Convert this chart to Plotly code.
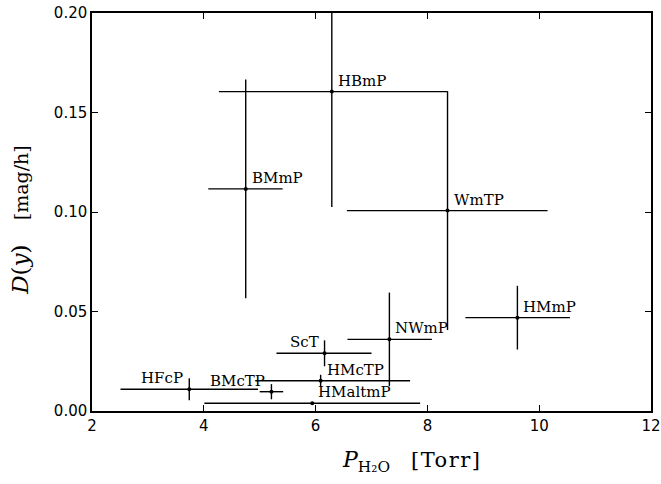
import plotly.graph_objects as go

names = ["HBmP", "BMmP", "WmTP", "NWmP", "HMmP", "ScT", "HMcTP", "HMaltmP", "HFcP", "BMcTP"]
p_h2o = [6.29, 4.75, 8.36, 7.32, 9.61, 6.16, 6.09, 5.94, 3.74, 5.21]
d_y = [0.1605, 0.1116, 0.1007, 0.0360, 0.0469, 0.0290, 0.0152, 0.0039, 0.0109, 0.0097]
x_err_plus = [2.07, 0.66, 1.79, 0.76, 0.94, 0.84, 1.60, 1.93, 1.23, 0.21]
x_err_minus = [2.02, 0.67, 1.80, 0.75, 0.93, 0.86, 1.17, 1.93, 1.23, 0.21]
y_err = [0.058, 0.055, 0.060, 0.0235, 0.016, 0.0065, 0.003, 0.0, 0.0055, 0.0038]
# label side: 1 = upper right, -1 = upper left
label_side = [1, 1, 1, 1, 1, -1, 1, 1, -1, -1]

x_ticks = [2, 4, 6, 8, 10, 12]
y_ticks = [0.00, 0.05, 0.10, 0.15, 0.20]

SERIF = "DejaVu Serif"
SANS = "DejaVu Sans"
NB = "\u00a0"

fig = go.Figure()
fig.add_trace(go.Scatter(
    x=p_h2o, y=d_y, mode="markers",
    marker=dict(color="black", size=4),
    error_x=dict(type="data", symmetric=False, array=x_err_plus, arrayminus=x_err_minus,
                 color="black", thickness=1.4, width=0),
    error_y=dict(type="data", array=y_err, color="black", thickness=1.4, width=0),
    showlegend=False, hoverinfo="skip",
))

for n, xv, yv, s in zip(names, p_h2o, d_y, label_side):
    fig.add_annotation(
        x=xv, y=yv, text=n, showarrow=False,
        xanchor="left" if s > 0 else "right", yanchor="bottom",
        xshift=4 * s, yshift=0,
        font=dict(family=SERIF, size=15, color="black"),
    )

# axis titles
fig.add_annotation(
    xref="paper", yref="paper", x=0.573, y=-0.128,
    xanchor="center", yanchor="middle", showarrow=False,
    text="<i>P</i><sub>H₂O</sub>" + NB * 3
         + "<span style='font-size:21px;letter-spacing:1.5px'>[Torr]</span>",
    font=dict(family=SERIF, size=22, color="black"),
)
fig.add_annotation(
    xref="paper", yref="paper", x=-0.129, y=0.48,
    xanchor="center", yanchor="middle", showarrow=False, textangle=-90,
    text="<span style='font-size:23px'><i>D</i>(<i>y</i>)</span>" + NB * 4 + "[mag/h]",
    font=dict(family=SERIF, size=19, color="black"),
)

fig.update_layout(
    width=661, height=484,
    margin=dict(l=92, r=10, t=13, b=73, autoexpand=False),
    paper_bgcolor="white", plot_bgcolor="white",
    font=dict(family=SERIF, color="black"),
)
fig.update_xaxes(
    range=[2, 12], tickvals=x_ticks, ticktext=[str(v) for v in x_ticks],
    ticks="inside", ticklen=6, tickcolor="black", tickwidth=1,
    showline=True, linecolor="black", linewidth=1.5, mirror="ticks",
    showgrid=False, zeroline=False, automargin=False,
    tickfont=dict(family=SANS, size=15),
)
fig.update_yaxes(
    range=[0, 0.20], tickvals=y_ticks, ticktext=["%.2f" % v for v in y_ticks],
    ticks="inside", ticklen=6, tickcolor="black", tickwidth=1,
    showline=True, linecolor="black", linewidth=1.5, mirror="ticks",
    showgrid=False, zeroline=False, automargin=False,
    tickfont=dict(family=SANS, size=15),
)

fig.write_html(
    "out.html",
    config={"displayModeBar": False},
    post_script=(
        "document.documentElement.style.margin='0';"
        "document.documentElement.style.overflow='hidden';"
        "document.body.style.margin='0';"
        "document.body.style.overflow='hidden';"
    ),
)
